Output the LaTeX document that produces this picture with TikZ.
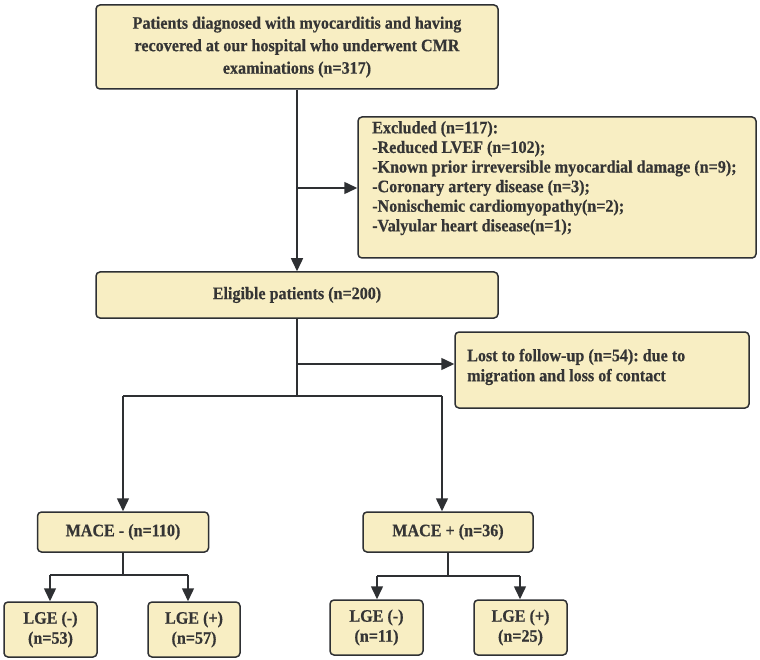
\documentclass[tikz,border=0pt]{standalone}
\usepackage{fontspec}
\setmainfont{Liberation Serif}[FakeStretch=0.92, BoldFeatures={FakeBold=0.5}]
\usetikzlibrary{arrows.meta}
\frenchspacing
\definecolor{boxfill}{HTML}{F8EEC3}
\definecolor{boxline}{HTML}{2E3033}
\definecolor{txt}{HTML}{353535}
\tikzset{
  box/.style={draw=boxline, fill=boxfill, line width=1.5pt, rounded corners=4pt, inner sep=0pt, text=txt, font=\bfseries\fontsize{17.5}{22.5}\selectfont, align=center},
  conn/.style={draw=boxline, line width=1.5pt},
  arr/.style={conn, -{Triangle[length=13pt,width=12pt]}}
}
\begin{document}
\begin{tikzpicture}[x=1pt,y=-1pt]
\useasboundingbox (0,0) rectangle (760,660);
% boxes
\node[box, minimum width=402pt, minimum height=84pt] (top) at (297,47)
  {Patients diagnosed with myocarditis and having\\recovered at our hospital who underwent CMR\\examinations (n=317)};
\node[box, minimum width=398pt, minimum height=141pt] (excl) at (557,187.5) {};
\node[anchor=north west, inner sep=0pt, text=txt, align=left, font=\bfseries\fontsize{17.5}{19.6}\selectfont] (excltext) at (372,121)
  {Excluded (n=117):\\-Reduced LVEF (n=102);\\-Known prior irreversible myocardial damage (n=9);\\-Coronary artery disease (n=3);\\-Nonischemic cardiomyopathy(n=2);\\-Valyular heart disease(n=1);};
\node[box, minimum width=402pt, minimum height=46pt] (elig) at (297,295) {Eligible patients (n=200)};
\node[box, minimum width=294pt, minimum height=76pt] (lost) at (602,370) {};
\node[anchor=west, inner sep=0pt, text=txt, align=left, font=\bfseries\fontsize{17.5}{20}\selectfont] (losttext) at (467,367)
  {Lost to follow-up (n=54): due to\\migration and loss of contact};
\node[box, minimum width=171pt, minimum height=40pt] (macem) at (123,532) {MACE - (n=110)};
\node[box, minimum width=170pt, minimum height=40pt] (macep) at (448,532) {MACE + (n=36)};
\node[box, minimum width=93pt, minimum height=55pt, font=\bfseries\fontsize{17.5}{20}\selectfont] (l1) at (50.5,629.5) {LGE (-)\\(n=53)};
\node[box, minimum width=92pt, minimum height=55pt, font=\bfseries\fontsize{17.5}{20}\selectfont] (l2) at (194,629.5) {LGE (+)\\(n=57)};
\node[box, minimum width=93pt, minimum height=55pt, font=\bfseries\fontsize{17.5}{20}\selectfont] (l3) at (376.5,627.5) {LGE (-)\\(n=11)};
\node[box, minimum width=93pt, minimum height=55pt, font=\bfseries\fontsize{17.5}{20}\selectfont] (l4) at (520.5,627.5) {LGE (+)\\(n=25)};
% junction coordinates
\coordinate (j1) at (297,188);
\coordinate (j2) at (297,364);
\coordinate (j3) at (297,396);
\coordinate (jL) at (123,396);
\coordinate (jR) at (442,396);
\coordinate (m1) at (123,575);
\coordinate (m1L) at (50,575);
\coordinate (m1R) at (188,575);
\coordinate (m2) at (448,576);
\coordinate (m2L) at (377,576);
\coordinate (m2R) at (520,576);
% connectors
\draw[arr] (top.south) -- (elig.north);
\draw[arr] (j1) -- (excl.west |- j1);
\draw[conn] (elig.south) -- (j3);
\draw[arr] (j2) -- (lost.west |- j2);
\draw[conn] (jL) -- (jR);
\draw[arr] (jL) -- (macem.north -| jL);
\draw[arr] (jR) -- (macep.north -| jR);
\draw[conn] (macem.south) -- (m1);
\draw[conn] (m1L) -- (m1R);
\draw[arr] (m1L) -- (l1.north -| m1L);
\draw[arr] (m1R) -- (l2.north -| m1R);
\draw[conn] (macep.south) -- (m2);
\draw[conn] (m2L) -- (m2R);
\draw[arr] (m2L) -- (l3.north -| m2L);
\draw[arr] (m2R) -- (l4.north -| m2R);
\end{tikzpicture}
\end{document}
